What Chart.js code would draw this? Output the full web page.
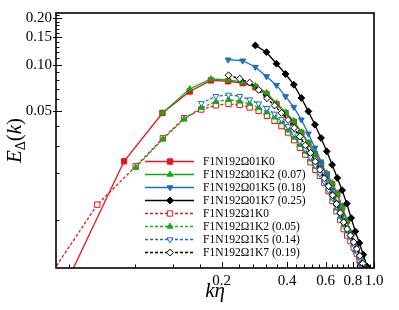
<!DOCTYPE html>
<html>
<head>
<meta charset="utf-8">
<script src="https://cdn.jsdelivr.net/npm/chart.js@4.4.0/dist/chart.umd.min.js"></script>
<style>
  html, body { margin: 0; padding: 0; background: #fff; }
  #wrap { width: 399px; height: 310px; }
</style>
</head>
<body>
<div id="wrap"><canvas id="chart" width="399" height="310"></canvas></div>
<script>
// k-eta grids of the two run families
const kSolid = [0.0357, 0.0714, 0.1071, 0.1429, 0.1786, 0.2143, 0.25, 0.2857, 0.3214, 0.3571,
    0.3929, 0.4286, 0.4643, 0.5, 0.5357, 0.5714, 0.6071, 0.6429, 0.6786, 0.7143,
    0.75, 0.7857, 0.8214, 0.8571, 0.8929, 0.9286, 0.9643, 1.0];
const kDashed = [0.0269, 0.0538, 0.0807, 0.1076, 0.1345, 0.1614, 0.1883, 0.2152, 0.2421, 0.269,
    0.2959, 0.3228, 0.3497, 0.3766, 0.4035, 0.4304, 0.4573, 0.4842, 0.5111, 0.538,
    0.5649, 0.5918, 0.6187, 0.6456, 0.6725, 0.6994, 0.7263, 0.7532, 0.7801, 0.807,
    0.8339, 0.8608, 0.8877, 0.9146, 0.9415, 0.9684, 0.9953];

// E_Delta(k) values (null = no point)
const o01K0 = [0.00305, 0.0238, 0.0488, 0.0672, 0.0792, 0.0782, 0.076, 0.0716, 0.0645, 0.0556,
    0.0487, 0.0428, 0.0364, 0.0310, 0.0265, 0.0227, 0.0196, 0.0170, 0.0146, 0.0120,
    0.00982, 0.0081, 0.00675, 0.00573, 0.0049, 0.0042, 0.00353, 0.0030];
const o01K2 = [null, null, 0.0488, 0.0697, 0.0809, 0.0798, 0.0772, 0.0730, 0.0660, 0.0565,
    0.0494, 0.0434, 0.0368, 0.0314, 0.0268, 0.0230, 0.0199, 0.01725, 0.01483, 0.01217,
    0.00994, 0.00817, 0.00681, 0.00577, 0.00494, 0.00423, 0.00353, 0.00305];
const o01K5 = [null, null, null, null, null, 0.1077, 0.1061, 0.0966, 0.0840, 0.0738,
    0.0625, 0.0533, 0.0442, 0.0359, 0.0291, 0.0237, 0.0192, 0.0156, 0.0129, 0.0106,
    0.00875, 0.00732, 0.00613, 0.0052, 0.00442, 0.00376, 0.0032, 0.0027];
const o01K7 = [null, null, null, null, null, null, null, 0.1332, 0.1204, 0.1015,
    0.0871, 0.0743, 0.0610, 0.0500, 0.0410, 0.0337, 0.0276, 0.0226, 0.0186, 0.0155,
    0.0127, 0.01025, 0.0084, 0.00708, 0.00594, 0.0050, 0.0041, 0.0033];

const o1K0 = [0.00289, 0.0125, 0.0221, 0.0335, 0.0452, 0.0514, 0.0547, 0.0559, 0.0550, 0.0530,
    0.0503, 0.0468, 0.0435, 0.0402, 0.0365, 0.0326, 0.0291, 0.0263, 0.0235, 0.0210,
    0.0192, 0.01725, 0.01527, 0.01318, 0.01133, 0.00996, 0.0087, 0.0079, 0.00728, 0.00661,
    0.00604, 0.00553, 0.00512, 0.00472, 0.00438, 0.00393, 0.00351];
const o1K2 = [null, null, 0.0217, 0.0331, 0.0445, 0.0528, 0.0577, 0.0595, 0.058, 0.056,
    0.0528, 0.0494, 0.0458, 0.0426, 0.0377, 0.0339, 0.0304, 0.0275, 0.0246, 0.0220,
    0.0201, 0.0180, 0.01596, 0.01378, 0.01184, 0.0104, 0.00922, 0.00849, 0.00771, 0.00691,
    0.00632, 0.00578, 0.00536, 0.00494, 0.00458, 0.0041, 0.00367];
const o1K5 = [null, null, null, null, null, 0.0565, 0.0626, 0.0639, 0.0626, 0.0596,
    0.0561, 0.0524, 0.0482, 0.0444, 0.0400, 0.0359, 0.0321, 0.0286, 0.0253, 0.0224,
    0.0198, 0.0176, 0.0155, 0.0138, 0.01217, 0.01077, 0.00958, 0.00857, 0.00768, 0.00691,
    0.00621, 0.00561, 0.00501, 0.00452, 0.0041, 0.00372, 0.00338];
const o1K7 = [null, null, null, null, null, null, null, 0.0856, 0.0812, 0.0767,
    0.0688, 0.0608, 0.0545, 0.0489, 0.0440, 0.0391, 0.0344, 0.0302, 0.0270, 0.0237,
    0.0210, 0.0185, 0.01645, 0.01437, 0.01262, 0.01105, 0.00964, 0.00871, 0.00791, 0.00717,
    0.00648, 0.00584, 0.00522, 0.00465, 0.0041, 0.00364, 0.00324];

const seriesLabels = ['F1N192\u03A901K0', 'F1N192\u03A901K2 (0.07)', 'F1N192\u03A901K5 (0.18)', 'F1N192\u03A901K7 (0.25)',
    'F1N192\u03A91K0', 'F1N192\u03A91K2 (0.05)', 'F1N192\u03A91K5 (0.14)', 'F1N192\u03A91K7 (0.19)'];

const xTickLabels = [0.2, 0.4, 0.6, 0.8, 1.0];
const yTickLabels = [0.05, 0.10, 0.15, 0.20];

const RED = '#e3161c', GREEN = '#17a817', BLUE = '#1f6cbf', BLACK = '#000';
const serif = "'Liberation Serif', 'Times New Roman', serif";
const X_MIN = 0.0348, X_MAX = 1.0, Y_MIN = 0.00488, Y_MAX = 0.2156;

// minor tick positions (axis decoration only)
const xTicks = [];
for (let i = 1; i <= 25; i++) xTicks.push(+(i * 0.04).toFixed(2));
const yTicks = [];
for (let i = 1; i <= 21; i++) yTicks.push(+(i * 0.01).toFixed(2));

function pts(ks, vals) {
    const out = [];
    vals.forEach((v, i) => { if (v !== null) out.push({ x: ks[i], y: v }); });
    return out;
}

function ds(idx, ks, vals, color, dashed, style, rot, open) {
    return {
        label: seriesLabels[idx],
        data: pts(ks, vals),
        borderColor: color,
        borderWidth: 1.3,
        borderDash: dashed ? [3, 2] : [],
        pointStyle: style,
        rotation: rot,
        pointRadius: style === 'rect' ? 3.8 : 3.4,
        pointBorderWidth: 1,
        pointBorderColor: color,
        pointBackgroundColor: open ? '#fff' : color,
        tension: 0,
        fill: false,
        clip: 0,
        order: 8 - idx
    };
}

const datasets = [
    ds(0, kSolid, o01K0, RED, false, 'rect', 0, false),
    ds(1, kSolid, o01K2, GREEN, false, 'triangle', 0, false),
    ds(2, kSolid, o01K5, BLUE, false, 'triangle', 180, false),
    ds(3, kSolid, o01K7, BLACK, false, 'rectRot', 0, false),
    ds(4, kDashed, o1K0, RED, true, 'rect', 0, true),
    ds(5, kDashed, o1K2, GREEN, true, 'triangle', 0, false),
    ds(6, kDashed, o1K5, BLUE, true, 'triangle', 180, true),
    ds(7, kDashed, o1K7, BLACK, true, 'rectRot', 0, true)
];

const isLabel = (list, v) => list.some(t => Math.abs(t - v) < 1e-6);

// frame, inward ticks, axis titles and legend
const decor = {
    id: 'decor',
    beforeDraw(chart) {
        const ctx = chart.ctx;
        ctx.save();
        ctx.fillStyle = '#fff';
        ctx.fillRect(0, 0, chart.width, chart.height);
        ctx.restore();
    },
    afterDraw(chart) {
        const ctx = chart.ctx;
        const a = chart.chartArea;
        const xs = chart.scales.x, ys = chart.scales.y;
        ctx.save();
        ctx.strokeStyle = '#000';
        ctx.lineWidth = 1;
        xTicks.forEach(v => {
            if (v < X_MIN || v > X_MAX) return;
            const px = Math.round(xs.getPixelForValue(v)) + 0.5;
            const len = isLabel(xTickLabels, v) ? 6 : 3.5;
            ctx.beginPath();
            ctx.moveTo(px, a.bottom);
            ctx.lineTo(px, a.bottom - len);
            ctx.stroke();
        });
        yTicks.forEach(v => {
            if (v < Y_MIN || v > Y_MAX) return;
            const py = Math.round(ys.getPixelForValue(v)) + 0.5;
            const major = isLabel(yTickLabels, v);
            ctx.beginPath();
            ctx.moveTo(a.left - (major ? 3 : 0), py);
            ctx.lineTo(a.left + (major ? 6 : 3.5), py);
            ctx.stroke();
        });
        ctx.lineWidth = 1.6;
        ctx.strokeRect(a.left, a.top, a.right - a.left, a.bottom - a.top);

        // x title
        ctx.fillStyle = '#000';
        ctx.font = 'italic 21px ' + serif;
        ctx.textAlign = 'center';
        ctx.textBaseline = 'alphabetic';
        ctx.fillText('k\u03B7', (a.left + a.right) / 2, 297);

        // y title E_Delta(k)
        const parts = [
            { t: 'E', f: 'italic 21px ' + serif, dy: 0 },
            { t: '\u0394', f: '14px ' + serif, dy: 4 },
            { t: '(', f: '21px ' + serif, dy: 0 },
            { t: 'k', f: 'italic 21px ' + serif, dy: 0 },
            { t: ')', f: '21px ' + serif, dy: 0 }
        ];
        let total = 0;
        parts.forEach(p => { ctx.font = p.f; p.w = ctx.measureText(p.t).width; total += p.w; });
        ctx.translate(21, (a.top + a.bottom) / 2);
        ctx.rotate(-Math.PI / 2);
        ctx.textAlign = 'left';
        let cx = -total / 2;
        parts.forEach(p => { ctx.font = p.f; ctx.fillText(p.t, cx, p.dy); cx += p.w; });
        ctx.restore();

        // legend
        ctx.save();
        chart.data.datasets.forEach((d, i) => {
            const y = 161 + 13 * i;
            ctx.strokeStyle = d.borderColor;
            ctx.lineWidth = d.borderWidth;
            ctx.setLineDash(d.borderDash);
            ctx.beginPath();
            ctx.moveTo(145, y + 0.5);
            ctx.lineTo(194, y + 0.5);
            ctx.stroke();
            ctx.setLineDash([]);
            ctx.fillStyle = d.pointBackgroundColor;
            ctx.strokeStyle = d.pointBorderColor;
            ctx.lineWidth = 1;
            Chart.helpers.drawPoint(ctx, {
                pointStyle: d.pointStyle, rotation: d.rotation,
                radius: d.pointRadius, borderWidth: 1
            }, 170, y + 0.5);
            ctx.fillStyle = '#000';
            ctx.font = '11.5px ' + serif;
            ctx.textAlign = 'left';
            ctx.textBaseline = 'middle';
            ctx.fillText(d.label, 203, y + 1);
        });
        ctx.restore();
    }
};

new Chart(document.getElementById('chart'), {
    type: 'line',
    data: { datasets: datasets },
    options: {
        responsive: false,
        animation: false,
        devicePixelRatio: 1,
        layout: { padding: { top: 13, right: 25, left: 0, bottom: 0 } },
        plugins: { legend: { display: false }, tooltip: { enabled: false } },
        scales: {
            x: {
                type: 'logarithmic',
                min: X_MIN,
                max: X_MAX,
                grid: { display: false, drawTicks: false },
                border: { display: false },
                ticks: {
                    autoSkip: false, maxRotation: 0, minRotation: 0, padding: 4,
                    color: '#000', font: { family: serif, size: 15 },
                    callback: v => isLabel(xTickLabels, v) ? Number(v).toFixed(1) : ''
                },
                afterBuildTicks: s => { s.ticks = xTickLabels.map(v => ({ value: v })); },
                afterFit: s => { s.height = 42; }
            },
            y: {
                type: 'logarithmic',
                min: Y_MIN,
                max: Y_MAX,
                grid: { display: false, drawTicks: false },
                border: { display: false },
                ticks: {
                    autoSkip: false, padding: 4,
                    color: '#000', font: { family: serif, size: 15 },
                    callback: v => isLabel(yTickLabels, v) ? Number(v).toFixed(2) : ''
                },
                afterBuildTicks: s => { s.ticks = yTickLabels.map(v => ({ value: v })); },
                afterFit: s => { s.width = 56; }
            }
        }
    },
    plugins: [decor]
});
</script>
</body>
</html>
